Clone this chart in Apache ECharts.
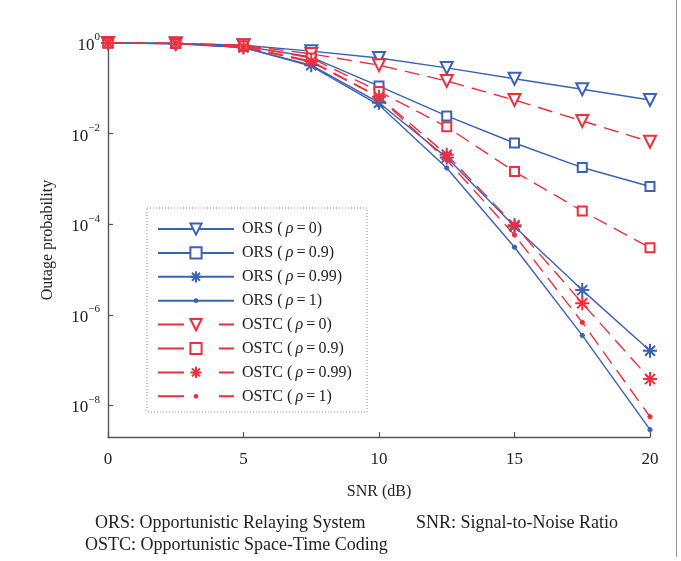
<!DOCTYPE html>
<html><head><meta charset="utf-8">
<script src="https://cdn.jsdelivr.net/npm/echarts@6/dist/echarts.min.js"></script>
<style>html,body{margin:0;padding:0;background:#fff}#c{width:681px;height:561px}</style>
</head><body><div id="c"></div>
<script>
// ---- data ----
const snr = [0, 2.5, 5, 7.5, 10, 12.5, 15, 17.5, 20];
const xTicks = [0, 5, 10, 15, 20];
const yTickExps = [0, -2, -4, -6, -8];
const names = ['ORS (ρ=0)', 'ORS (ρ=0.9)', 'ORS (ρ=0.99)', 'ORS (ρ=1)',
               'OSTC (ρ=0)', 'OSTC (ρ=0.9)', 'OSTC (ρ=0.99)', 'OSTC (ρ=1)'];
const ors0    = [1, 0.977, 0.891, 0.661, 0.468, 0.282, 0.162, 0.0955, 0.055];
const ors09   = [1, 0.977, 0.851, 0.49, 0.112, 0.0245, 0.0062, 0.00178, 0.00068];
const ors099  = [1, 0.977, 0.794, 0.324, 0.048, 0.00295, 8.9e-5, 3.5e-6, 1.6e-7];
const ors1    = [1, 0.977, 0.794, 0.309, 0.0427, 0.00174, 3.1e-5, 3.5e-7, 2.9e-9];
const ostc0   = [1, 0.977, 0.891, 0.575, 0.324, 0.145, 0.055, 0.019, 0.0066];
const ostc09  = [1, 0.977, 0.871, 0.468, 0.085, 0.0141, 0.00145, 0.000195, 0.00003];
const ostc099 = [1, 0.977, 0.832, 0.398, 0.065, 0.0034, 9.5e-5, 1.8e-6, 3.8e-8];
const ostc1   = [1, 0.977, 0.813, 0.38, 0.063, 0.0026, 5.75e-5, 6.8e-7, 5.6e-9];
const footnotes = ['ORS: Opportunistic Relaying System', 'SNR: Signal-to-Noise Ratio', 'OSTC: Opportunistic Space-Time Coding'];

// ---- styles ----
const BLUE = '#3a62b8', RED = '#ee2f3b';
const FONT = '"Liberation Serif","DejaVu Serif",serif';
const STAR = 'path://M0,-6L0,6M-6,0L6,0M-4.3,-4.3L4.3,4.3M-4.3,4.3L4.3,-4.3';
const DOT = 'path://M-5,-5L-5,-5M5,5L5,5M-1.2,0A1.2,1.2,0,1,0,1.2,0A1.2,1.2,0,1,0,-1.2,0Z';
const marks = [
  {symbol: 'emptyTriangle', size: 12, rotate: 180, bw: 1.5},
  {symbol: 'emptyRect', size: 9, rotate: 0, bw: 1.5},
  {symbol: STAR, size: 14, rotate: 0, bw: 2},
  {symbol: DOT, size: 18, rotate: 0, bw: 1}
];
const sets = [ors0, ors09, ors099, ors1, ostc0, ostc09, ostc099, ostc1];

const series = sets.map((vals, i) => {
  const m = marks[i % 4];
  const red = i >= 4;
  const color = red ? RED : BLUE;
  return {
    name: names[i], type: 'line',
    data: snr.map((x, k) => [x, vals[k]]),
    symbol: m.symbol, symbolSize: m.size, symbolRotate: m.rotate,
    showAllSymbol: true,
    lineStyle: {color, width: 1.4, type: red ? [15, 8] : 'solid'},
    itemStyle: {color, borderColor: color, borderWidth: m.bw},
    emphasis: {disabled: true},
    animation: false
  };
});

function yLabel(v) {
  const e = Math.log10(v);
  const r = Math.round(e);
  if (Math.abs(e - r) > 1e-6 || yTickExps.indexOf(r) < 0) return '';
  return '{b|10}{s|' + (r === 0 ? '0' : '\u2212' + (-r)) + '}';
}
function legendLabel(n) {
  const p = n.split('ρ');
  return '{n|' + p[0] + '\u2009}{i|ρ}{n|' + p[1].replace('=', '\u2009=\u2009') + '}';
}

const chart = echarts.init(document.getElementById('c'), null, {renderer: 'canvas'});
chart.setOption({
  animation: false,
  backgroundColor: '#fff',
  grid: {left: 108, right: 31, top: 43, bottom: 124},
  xAxis: {
    type: 'value', min: xTicks[0], max: xTicks[xTicks.length - 1], interval: 5,
    name: 'SNR (dB)', nameLocation: 'middle', nameGap: 47,
    nameTextStyle: {fontFamily: FONT, fontSize: 16, color: '#222'},
    axisLine: {lineStyle: {color: '#555', width: 1.4}},
    axisTick: {inside: true, length: 5, lineStyle: {color: '#555', width: 1.2}},
    axisLabel: {fontFamily: FONT, fontSize: 17, color: '#222', margin: 14},
    splitLine: {show: false}
  },
  yAxis: {
    type: 'log', logBase: 100, min: 2e-9, max: 1,
    name: 'Outage probability', nameLocation: 'middle', nameGap: 52, nameRotate: 90,
    nameTextStyle: {fontFamily: FONT, fontSize: 16, color: '#222'},
    axisLine: {show: true, lineStyle: {color: '#555', width: 1.4}},
    axisTick: {inside: true, length: 5, lineStyle: {color: '#555', width: 1.2}},
    axisLabel: {
      formatter: yLabel, margin: 8, showMinLabel: false,
      rich: {
        b: {fontFamily: FONT, fontSize: 17, color: '#222', lineHeight: 22, verticalAlign: 'bottom'},
        s: {fontFamily: FONT, fontSize: 11, color: '#222', lineHeight: 22, verticalAlign: 'top'}
      }
    },
    splitLine: {show: false},
    minorTick: {show: false}
  },
  legend: {
    orient: 'vertical', left: 157, top: 221, padding: 0,
    itemWidth: 76, itemHeight: 14, itemGap: 7.9,
    data: names.map((n, i) => i >= 4 ? {name: n, lineStyle: {type: [26, 35]}} : {name: n}),
    formatter: legendLabel,
    textStyle: {
      padding: [0, 0, 0, 3],
      rich: {
        n: {fontFamily: FONT, fontSize: 16, color: '#222', lineHeight: 14},
        i: {fontFamily: FONT, fontSize: 16, color: '#222', fontStyle: 'italic', lineHeight: 14}
      }
    },
    selectedMode: false
  },
  graphic: [
    {type: 'rect', shape: {x: 147, y: 208, width: 220, height: 204},
     style: {fill: null, stroke: '#888', lineWidth: 1, lineDash: [1, 2]}, z: 1, silent: true},
    {type: 'line', shape: {x1: 676.5, y1: 0, x2: 676.5, y2: 557},
     style: {stroke: '#999', lineWidth: 1}, silent: true},
    {type: 'text', left: 95, top: 514, style: {text: footnotes[0], font: '18px ' + FONT, fill: '#222'}},
    {type: 'text', left: 416, top: 514, style: {text: footnotes[1], font: '18px ' + FONT, fill: '#222'}},
    {type: 'text', left: 85, top: 536, style: {text: footnotes[2], font: '18px ' + FONT, fill: '#222'}}
  ],
  series
});
</script>
</body></html>
